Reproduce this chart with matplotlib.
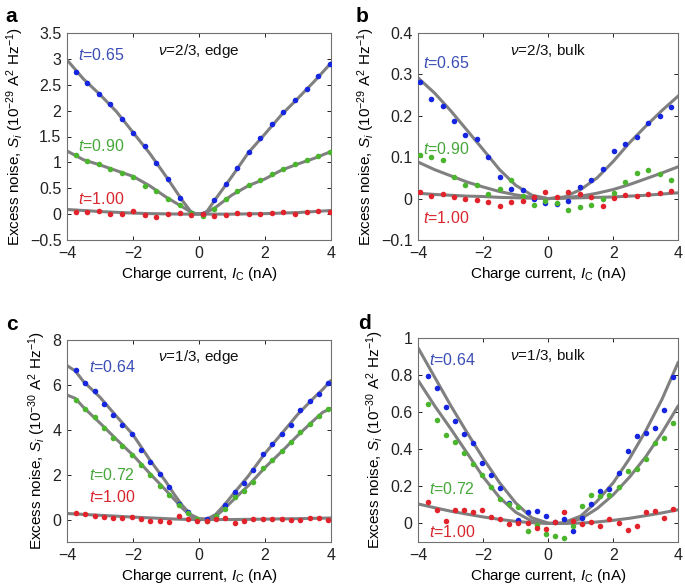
import matplotlib
matplotlib.use("Agg")
import matplotlib.pyplot as plt
import numpy as np

plt.rcParams['font.family'] = ['Liberation Sans', 'DejaVu Sans']
plt.rcParams['mathtext.fontset'] = 'custom'
plt.rcParams['mathtext.rm'] = 'Liberation Sans'
plt.rcParams['mathtext.it'] = 'Liberation Sans:italic'
plt.rcParams['mathtext.bf'] = 'Liberation Sans:bold'

# ---------------- Panel a : nu=2/3 edge ----------------
xa = [-3.74, -3.39, -3.04, -2.69, -2.34, -1.99, -1.64, -1.29, -0.94, -0.59, -0.24, 0.11,
      0.46, 0.81, 1.16, 1.51, 1.86, 2.21, 2.56, 2.91, 3.26, 3.61, 3.96]
a_blue = [2.74, 2.54, 2.33, 2.13, 1.84, 1.56, 1.31, 0.99, 0.67, 0.32, 0.03, 0.01,
          0.27, 0.59, 0.90, 1.21, 1.48, 1.75, 1.97, 2.21, 2.42, 2.66, 2.90]
a_green = [1.14, 1.03, 0.96, 0.87, 0.80, 0.72, 0.55, 0.44, 0.30, 0.17, 0.02, -0.03,
           0.09, 0.29, 0.44, 0.56, 0.65, 0.78, 0.88, 0.96, 1.05, 1.13, 1.21]
a_red = [0.05, 0.04, 0.07, 0.00, 0.00, 0.07, -0.02, -0.06, 0.00, 0.02, -0.01, 0.01,
         -0.04, -0.01, 0.02, 0.00, 0.00, 0.02, 0.04, 0.00, 0.04, 0.07, 0.05]
fa_x = [-4, -3.5, -3, -2.5, -2, -1.5, -1, -0.5, -0.25, -0.1, 0.1, 0.25, 0.5, 1, 1.5, 2, 2.5, 3, 3.5, 4]
fa_blue = [2.98, 2.61, 2.31, 1.98, 1.58, 1.18, 0.73, 0.26, 0.05, 0.0, 0.0, 0.06, 0.29, 0.73, 1.19, 1.55, 1.92, 2.24, 2.57, 2.92]
fa_green = [1.22, 1.05, 0.95, 0.84, 0.73, 0.55, 0.33, 0.14, 0.04, 0.01, 0.01, 0.04, 0.13, 0.37, 0.55, 0.68, 0.85, 0.97, 1.08, 1.21]
fa_red = [0.09, 0.07, 0.05, 0.035, 0.02, 0.01, 0.005, 0.0, 0.0, 0.0, 0.0, 0.0, 0.0, 0.0, 0.005, 0.01, 0.02, 0.03, 0.05, 0.07]

# ---------------- Panel b : nu=2/3 bulk ----------------
xb = [-3.95, -3.60, -3.25, -2.90, -2.55, -2.20, -1.85, -1.49, -1.14, -0.79, -0.44, -0.09,
      0.27, 0.62, 0.97, 1.32, 1.67, 2.02, 2.37, 2.73, 3.08, 3.43, 3.78]
b_blue = [0.281, 0.240, 0.223, 0.188, 0.153, 0.144, 0.101, 0.052, 0.023, 0.020, -0.001, -0.011,
          -0.013, -0.006, 0.027, 0.044, 0.072, 0.115, 0.131, 0.150, 0.182, 0.200, 0.221]
b_green = [0.105, 0.100, 0.093, 0.053, 0.032, 0.032, 0.011, 0.023, 0.044, 0.006, -0.015, -0.007,
           -0.010, -0.027, -0.020, -0.015, 0.000, 0.013, 0.039, 0.062, 0.068, 0.060, 0.044]
b_red = [0.015, 0.007, 0.010, 0.005, -0.001, -0.003, -0.008, -0.019, -0.009, -0.006, 0.005, 0.015,
         0.004, 0.017, 0.011, 0.004, -0.017, 0.002, 0.009, 0.006, 0.010, 0.013, 0.019]
fb_x = [-4, -3.5, -3, -2.5, -2, -1.5, -1, -0.5, 0, 0.5, 1, 1.5, 2, 2.5, 3, 3.5, 4]
fb_blue = [0.291, 0.255, 0.212, 0.165, 0.118, 0.070, 0.032, 0.008, 0.0, 0.004, 0.022, 0.050, 0.090, 0.135, 0.175, 0.213, 0.248]
fb_green = [0.088, 0.070, 0.055, 0.040, 0.028, 0.017, 0.009, 0.003, 0.0, 0.002, 0.006, 0.013, 0.022, 0.034, 0.048, 0.062, 0.077]
fb_red = [0.013, 0.010, 0.008, 0.006, 0.005, 0.003, 0.002, 0.001, 0.0, 0.001, 0.002, 0.003, 0.004, 0.006, 0.008, 0.011, 0.014]

# ---------------- Panel c : nu=1/3 edge ----------------
xc = [-3.73, -3.45, -3.16, -2.88, -2.60, -2.32, -2.03, -1.75, -1.47, -1.18, -0.90, -0.62, -0.33, -0.05,
      0.23, 0.52, 0.80, 1.08, 1.37, 1.65, 1.93, 2.22, 2.50, 2.78, 3.07, 3.35, 3.63, 3.92]
c_blue = [6.65, 6.07, 5.71, 5.13, 4.64, 4.22, 3.79, 3.09, 2.55, 2.02, 1.43, 0.69, 0.33, 0.00,
          0.02, 0.15, 0.67, 1.23, 1.65, 2.19, 2.92, 3.37, 3.81, 4.23, 4.87, 5.28, 5.59, 6.07]
c_green = [5.32, 4.91, 4.58, 4.06, 3.64, 3.29, 2.88, 2.42, 1.97, 1.51, 1.11, 0.63, 0.29, 0.03,
           -0.06, 0.18, 0.49, 0.99, 1.29, 1.68, 2.31, 2.65, 3.04, 3.45, 3.90, 4.27, 4.62, 4.93]
c_red = [0.31, 0.24, 0.18, 0.12, 0.08, 0.09, 0.12, 0.03, -0.06, -0.06, -0.10, 0.15, 0.02, -0.07,
         -0.06, 0.01, 0.07, -0.15, -0.07, 0.03, 0.04, 0.04, 0.04, -0.01, -0.04, 0.06, 0.06, -0.04]
fc_x = [-4, -3.75, -3.5, -3, -2.5, -2, -1.5, -1, -0.75, -0.5, -0.25, 0, 0.25, 0.5, 0.75, 1, 1.5, 2, 2.5, 3, 3.5, 3.75, 4]
fc_blue = [6.86, 6.62, 6.15, 5.45, 4.60, 3.78, 2.68, 1.68, 1.12, 0.62, 0.22, 0.04, 0.03, 0.22, 0.62, 1.07, 1.95, 2.95, 3.82, 4.70, 5.45, 5.80, 6.20]
fc_green = [5.55, 5.40, 5.00, 4.30, 3.57, 2.87, 2.07, 1.30, 0.90, 0.50, 0.16, 0.02, 0.0, 0.15, 0.45, 0.82, 1.52, 2.32, 3.02, 3.76, 4.45, 4.78, 4.95]
fc_red = [0.27, 0.25, 0.23, 0.19, 0.15, 0.11, 0.075, 0.04, 0.025, 0.012, 0.004, 0.0, 0.0, 0.0, 0.0, 0.0, 0.01, 0.02, 0.03, 0.04, 0.055, 0.062, 0.07]

# ---------------- Panel d : nu=1/3 bulk ----------------
xd = [-3.71, -3.43, -3.15, -2.87, -2.59, -2.31, -2.03, -1.76, -1.48, -1.20, -0.92, -0.64, -0.36, -0.08,
      0.20, 0.48, 0.76, 1.04, 1.32, 1.60, 1.88, 2.16, 2.44, 2.72, 3.00, 3.27, 3.55, 3.83]
d_blue = [0.794, 0.731, 0.629, 0.552, 0.481, 0.436, 0.328, 0.26, 0.190, 0.11, 0.02, 0.060, 0.069, 0.042,
          0.010, 0.024, -0.040, 0.030, 0.105, 0.174, 0.184, 0.273, 0.390, 0.474, 0.488, 0.514, 0.613, 0.789]
d_green = [0.644, 0.557, 0.478, 0.440, 0.382, 0.318, 0.259, 0.197, 0.132, 0.105, 0.090, -0.040, -0.010, -0.058,
           -0.068, -0.080, -0.016, 0.096, 0.154, 0.149, 0.154, 0.197, 0.282, 0.295, 0.346, 0.432, 0.463, 0.543]
d_red = [0.114, 0.071, 0.015, 0.071, 0.074, 0.062, 0.071, 0.036, 0.025, -0.002, 0.000, 0.000, -0.025, -0.030,
         0.008, 0.062, 0.011, -0.003, 0.006, -0.014, 0.025, 0.002, -0.034, -0.016, 0.062, 0.069, 0.028, 0.080]
fd_x = [-4, -3.5, -3, -2.5, -2, -1.5, -1, -0.5, 0, 0.25, 0.5, 1, 1.5, 2, 2.5, 3, 3.5, 4]
fd_blue = [0.945, 0.790, 0.635, 0.490, 0.350, 0.220, 0.110, 0.030, 0.002, 0.0, 0.006, 0.040, 0.120, 0.220, 0.350, 0.500, 0.670, 0.870]
fd_green = [0.770, 0.635, 0.510, 0.380, 0.250, 0.140, 0.060, 0.012, 0.0, 0.0, 0.0, 0.025, 0.080, 0.155, 0.250, 0.360, 0.490, 0.635]
fd_red = [0.105, 0.085, 0.066, 0.050, 0.035, 0.022, 0.011, 0.004, 0.0, 0.0, 0.0, 0.002, 0.008, 0.017, 0.028, 0.042, 0.057, 0.074]

BLUE, GREEN, RED = '#1626e0', '#4cb52e', '#e3232b'
TBLUE, TGREEN, TRED = '#3a4db5', '#46a83a', '#d8262e'
GRAY = '#808080'

fig = plt.figure(figsize=(6.85, 5.88), dpi=100)

W = 264 / 685
WR = 260 / 685
panels = [
    dict(rect=[67/685, (588-240)/588, W, 207/588], x=xa, ys=[a_blue, a_green, a_red],
         fx=fa_x, fys=[fa_blue, fa_green, fa_red], ylim=(-0.5, 3.5),
         yticks=[-0.5, 0, 0.5, 1, 1.5, 2, 2.5, 3, 3.5],
         ylabels=['\u22120.5', '0', '0.5', '1', '1.5', '2', '2.5', '3', '3.5'],
         exp='-29', title='2/3, edge', letter='a', letterpos=(5/685, 1-17/588),
         tl=[('0.65', -3.67, 3.07), ('0.90', -3.67, 1.32), ('1.00', -3.67, 0.29)]),
    dict(rect=[418.3/685, (588-240)/588, WR, 207/588], x=xb, ys=[b_blue, b_green, b_red],
         fx=fb_x, fys=[fb_blue, fb_green, fb_red], ylim=(-0.1, 0.4),
         yticks=[-0.1, 0, 0.1, 0.2, 0.3, 0.4],
         ylabels=['\u22120.1', '0', '0.1', '0.2', '0.3', '0.4'],
         exp='-29', title='2/3, bulk', letter='b', letterpos=(356/685, 1-17/588),
         tl=[('0.65', -3.86, 0.327), ('0.90', -3.86, 0.12), ('1.00', -3.86, -0.047)]),
    dict(rect=[67/685, (588-542)/588, W, 202/588], x=xc, ys=[c_blue, c_green, c_red],
         fx=fc_x, fys=[fc_blue, fc_green, fc_red], ylim=(-1, 8),
         yticks=[0, 2, 4, 6, 8],
         ylabels=['0', '2', '4', '6', '8'],
         exp='-30', title='1/3, edge', letter='c', letterpos=(6/685, 1-325/588),
         tl=[('0.64', -3.33, 6.8), ('0.72', -3.33, 2.0), ('1.00', -3.33, 1.0)]),
    dict(rect=[418.3/685, (588-542)/588, WR, 204/588], x=xd, ys=[d_blue, d_green, d_red],
         fx=fd_x, fys=[fd_blue, fd_green, fd_red], ylim=(-0.1, 1.0),
         yticks=[0, 0.2, 0.4, 0.6, 0.8, 1.0],
         ylabels=['0', '0.2', '0.4', '0.6', '0.8', '1'],
         exp='-30', title='1/3, bulk', letter='d', letterpos=(358/685, 1-324/588),
         tl=[('0.64', -3.67, 0.88), ('0.72', -3.67, 0.187), ('1.00', -3.67, -0.047)]),
]

for p in panels:
    ax = fig.add_axes(p['rect'])
    for fy in p['fys']:
        ax.plot(p['fx'], fy, color=GRAY, lw=2.2, solid_capstyle='round', zorder=2)
    for y, c in zip(p['ys'], [BLUE, GREEN, RED]):
        ax.plot(p['x'], y, 'o', color=c, ms=4.0, mec='none', zorder=3)
    ax.set_xlim(-4, 4)
    ax.set_ylim(*p['ylim'])
    ax.set_xticks([-4, -2, 0, 2, 4])
    ax.set_xticklabels(['\u22124', '\u22122', '0', '2', '4'])
    ax.set_yticks(p['yticks'])
    ax.set_yticklabels(p['ylabels'])
    ax.tick_params(direction='in', top=True, right=True, length=3, width=0.7,
                   labelsize=11.5, colors='#222222', pad=4)
    for s in ax.spines.values():
        s.set_color('#707070')
        s.set_linewidth(0.8)
    ax.set_xlabel(r'Charge current, $I_\mathrm{C}$ (nA)', fontsize=11, labelpad=3)
    ax.set_ylabel(r'Excess noise, $S_i$ (10$^{' + p['exp'] + r'}$ A$^2$ Hz$^{-1}$)',
                  fontsize=11, labelpad=3)
    ax.text(0.5, 0.915, r'$\nu$' + '=' + p['title'], transform=ax.transAxes,
            ha='center', va='center', fontsize=11, color='#111111')
    for (lab, tx, ty), c in zip(p['tl'], [TBLUE, TGREEN, TRED]):
        ax.text(tx, ty, r'$t$=' + lab, color=c, fontsize=11.5, ha='left', va='center')
    fig.text(p['letterpos'][0], p['letterpos'][1], p['letter'], fontsize=15,
             fontweight='bold', ha='left', va='center')

fig.savefig('out.png', dpi=100)
